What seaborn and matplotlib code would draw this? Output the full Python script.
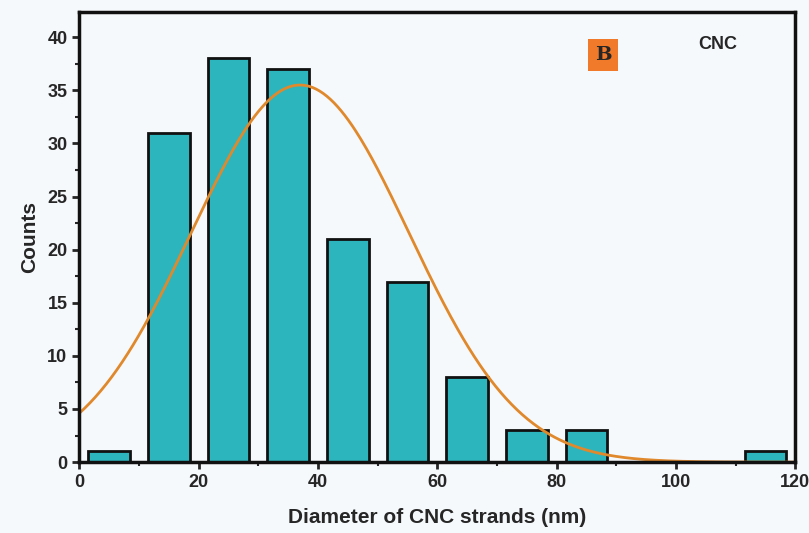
import numpy as np
import pandas as pd
import seaborn as sns
import matplotlib.pyplot as plt
from matplotlib.ticker import MultipleLocator

# histogram of CNC strand diameters
bin_centers = [5, 15, 25, 35, 45, 55, 65, 75, 85, 115]
counts = [1, 31, 38, 37, 21, 17, 8, 3, 3, 1]

# gaussian fit
fit_amp = 35.5
fit_center = 37.0
fit_sigma = 18.3

df = pd.DataFrame({"d": bin_centers, "n": counts})
xs = np.linspace(0, 120, 400)
fit = pd.DataFrame({"d": xs, "n": fit_amp * np.exp(-(xs - fit_center) ** 2 / (2 * fit_sigma ** 2))})

sns.set_style("ticks")
plt.rcParams["font.family"] = ["Liberation Sans", "DejaVu Sans"]

fig = plt.figure(figsize=(8.09, 5.33), dpi=100, facecolor="#f6f9fc")
ax = fig.add_axes([0.098, 0.133, 0.885, 0.845])
ax.set_facecolor("#f6f9fc")

sns.barplot(
    data=df,
    x="d",
    y="n",
    native_scale=True,
    width=0.7,
    color="#2db5bd",
    saturation=1,
    edgecolor="#111111",
    linewidth=2,
    ax=ax,
)
sns.lineplot(data=fit, x="d", y="n", color="#e0892c", linewidth=2, ax=ax)

ax.set_xlim(0, 120)
ax.set_ylim(0, 42.4)
ax.xaxis.set_major_locator(MultipleLocator(20))
ax.xaxis.set_minor_locator(MultipleLocator(10))
ax.yaxis.set_major_locator(MultipleLocator(5))
ax.yaxis.set_minor_locator(MultipleLocator(2.5))
ax.tick_params(which="major", length=5, width=2, labelsize=13)
ax.tick_params(which="minor", length=3, width=1.5)
for lbl in ax.get_xticklabels() + ax.get_yticklabels():
    lbl.set_fontweight("bold")
for s in ax.spines.values():
    s.set_linewidth(2.5)
    s.set_color("#111111")

ax.set_xlabel("Diameter of CNC strands (nm)", fontsize=15, fontweight="bold", labelpad=12)
ax.set_ylabel("Counts", fontsize=15, fontweight="bold", labelpad=6)

ax.text(87.8, 38.3, "B", fontsize=14, fontweight="bold", family="DejaVu Serif",
        ha="center", va="center",
        bbox=dict(boxstyle="square,pad=0.35", facecolor="#f07a2a", edgecolor="none"))
ax.text(107, 39.3, "CNC", fontsize=13, fontweight="bold", ha="center", va="center")

fig.savefig("out.png", dpi=100, facecolor=fig.get_facecolor())
